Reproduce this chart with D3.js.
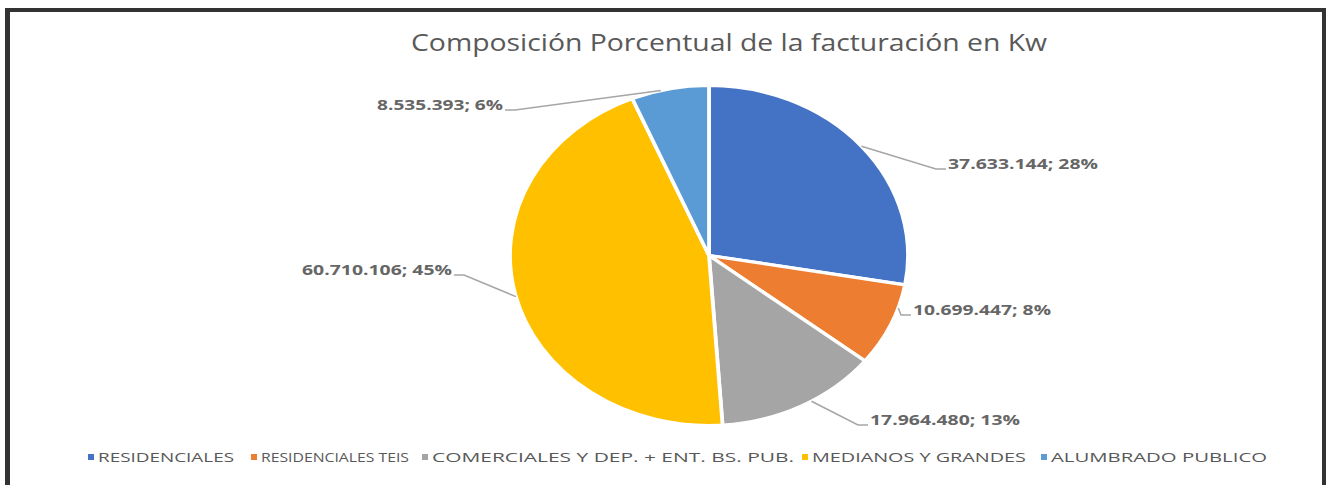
<!DOCTYPE html>
<html><head><meta charset="utf-8">
<script src="https://cdn.jsdelivr.net/npm/d3@7"></script>
<style>body{margin:0;background:#fff}svg{display:block}</style>
</head><body><svg id="c" width="1326" height="485"></svg>
<script>
const categories = ["RESIDENCIALES","RESIDENCIALES TEIS","COMERCIALES Y DEP. + ENT. BS. PUB.","MEDIANOS Y GRANDES","ALUMBRADO PUBLICO"];
const values = [37633144, 10699447, 17964480, 60710106, 8535393];
const percentLabels = ["28%","8%","13%","45%","6%"];
const valueLabels = ["37.633.144","10.699.447","17.964.480","60.710.106","8.535.393"];
const colors = ["#4472C4","#ED7D31","#A5A5A5","#FFC000","#5B9BD5"];
const title = "Composición Porcentual de la facturación en Kw";

// layout (not data)
const cx = 709, cy = 255.5, rx = 199, ry = 170;
const labelLayout = [
  {x:948, y:164, anchor:"start", leaderDeg:50, w:150},
  {x:913, y:310, anchor:"start", leaderDeg:108, w:138},
  {x:870, y:420, anchor:"start", leaderDeg:149, w:150},
  {x:452, y:270, anchor:"end", leaderDeg:256, w:150},
  {x:503, y:105, anchor:"end", leaderDeg:346, w:126}
];
const legendLayout = [
  {x:88, w:136},{x:251, w:148},{x:422, w:362},{x:802, w:214},{x:1041, w:216}
];

const svg = d3.select("#c");
// frame
svg.append("rect").attr("x",5).attr("y",8).attr("width",5).attr("height",477).attr("fill","#333");
svg.append("rect").attr("x",5).attr("y",8).attr("width",1321).attr("height",4).attr("fill","#333");
svg.append("rect").attr("x",1322).attr("y",8).attr("width",4).attr("height",477).attr("fill","#333");

svg.append("text").attr("x",729).attr("y",51).attr("text-anchor","middle")
  .attr("font-family","Open Sans, sans-serif").attr("font-size",24).attr("fill","#595959")
  .attr("textLength",636).attr("lengthAdjust","spacingAndGlyphs").text(title);

const pie = d3.pie().sort(null).value(d=>d);
const arcs = pie(values);
const arc = d3.arc().innerRadius(0).outerRadius(ry);
const g = svg.append("g").attr("transform",`translate(${cx},${cy}) scale(${rx/ry},1)`);
g.selectAll("path").data(arcs).join("path")
  .attr("d",arc).attr("fill",(d,i)=>colors[i])
  .attr("stroke","#fff").attr("stroke-width",3.2).attr("stroke-linejoin","round");

// leader lines & labels
const lg = svg.append("g");
arcs.forEach((a,i)=>{
  const L = labelLayout[i];
  const t = L.leaderDeg*Math.PI/180;
  const ex = cx + rx*Math.sin(t), ey = cy - ry*Math.cos(t);
  const dir = L.anchor==="start" ? 1 : -1;
  const ly = L.y + 5;
  const p = [[ex,ey],[L.x - dir*12, ly],[L.x - dir*2, ly]];
  lg.append("path").attr("d",d3.line()(p)).attr("fill","none")
    .attr("stroke","#a6a6a6").attr("stroke-width",1.5);
  lg.append("text").attr("x",L.x).attr("y",L.y).attr("dy","0.35em")
    .attr("text-anchor",L.anchor).attr("font-family","Open Sans, sans-serif")
    .attr("font-size",14).attr("font-weight","bold").attr("fill","#666")
    .attr("textLength",L.w).attr("lengthAdjust","spacingAndGlyphs")
    .text(valueLabels[i]+"; "+percentLabels[i]);
});

// legend
const leg = svg.append("g");
categories.forEach((c,i)=>{
  const L = legendLayout[i];
  leg.append("rect").attr("x",L.x).attr("y",454).attr("width",6).attr("height",6).attr("fill",colors[i]);
  leg.append("text").attr("x",L.x+10).attr("y",457).attr("dy","0.35em")
    .attr("font-family","Open Sans, sans-serif").attr("font-size",13).attr("fill","#595959")
    .attr("textLength",L.w).attr("lengthAdjust","spacingAndGlyphs").text(c);
});
</script></body></html>
